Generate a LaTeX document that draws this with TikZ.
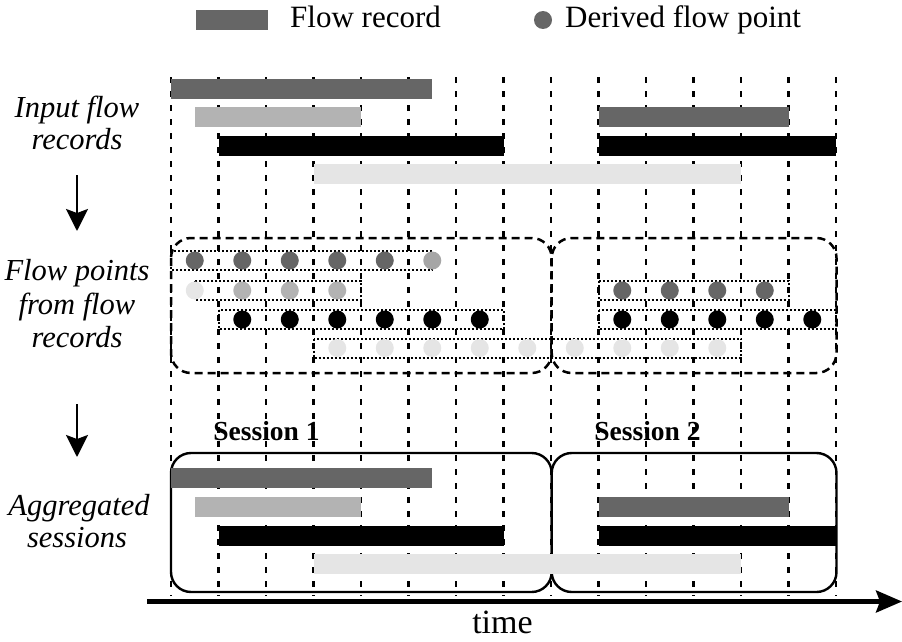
\documentclass[tikz,border=0pt]{standalone}
\usepackage{fontspec}
\setmainfont{Liberation Serif}
\usetikzlibrary{arrows.meta}
\definecolor{recdark}{HTML}{666666}
\definecolor{reclight}{HTML}{B3B3B3}
\definecolor{recpale}{HTML}{E5E5E5}
\definecolor{ptfade}{HTML}{A6A6A6}
\definecolor{ptpale}{HTML}{E6E6E6}

% horizontal position of half-step k on the time grid
\newcommand\tx[1]{{171+23.75*(#1)}}
% a flow record bar from half-step #1 to #2, top edge #3
\newcommand\flowbar[4]{\fill[#4] (\tx{#1},#3) rectangle (\tx{#2},#3+20);}
% dotted outline round the points of one record, centred on #3
\newcommand\ptbox[3]{\draw[pointbox] (\tx{#1},#3-9.5) rectangle (\tx{#2},#3+9.5);}

\begin{document}
\begin{tikzpicture}[x=1pt,y=-1pt,
  gridline/.style={line width=2.1pt,dash pattern=on 6pt off 8pt},
  pointbox/.style={line width=2pt,dash pattern=on 2pt off 2pt},
  sessdash/.style={line width=2.5pt,dash pattern=on 8pt off 5pt,rounded corners=20pt},
  sessbox/.style={line width=2.4pt,rounded corners=20pt},
  steplabel/.style={inner sep=0pt,anchor=base,font=\fontsize{30.5}{33}\selectfont\itshape},
  legendtext/.style={inner sep=0pt,anchor=base west,font=\fontsize{31}{33}\selectfont},
  sesslabel/.style={inner sep=0pt,anchor=base,font=\fontsize{27.5}{30}\selectfont\bfseries},
  stagearrow/.style={line width=2.2pt,-{Stealth[length=22pt,width=22pt,inset=4pt]}},
  timearrow/.style={line width=4.2pt,-{Stealth[length=26pt,width=22pt,inset=4pt]}}]
\useasboundingbox (0,0) rectangle (902,642);

% legend
\fill[recdark] (196,10) rectangle (268,30);
\node[legendtext] (legrec) at (290,28) {Flow record};
\fill[recdark] (543,20) circle (9pt);
\node[legendtext] (legpt) at (565,28) {Derived flow point};

% stage labels on the left
\node[steplabel] (in1) at (77,117) {Input flow};
\node[steplabel] (in2) at (77,149) {records};
\node[steplabel] (fp1) at (77,280) {Flow points};
\node[steplabel] (fp2) at (77,314) {from flow};
\node[steplabel] (fp3) at (77,347) {records};
\node[steplabel] (ag1) at (79,515) {Aggregated};
\node[steplabel] (ag2) at (77,547) {sessions};
\coordinate (a1s) at (77,175);
\coordinate (a1e) at (77,231);
\coordinate (a2s) at (77,404);
\coordinate (a2e) at (77,457);
\draw[stagearrow] (a1s) -- (a1e);
\draw[stagearrow] (a2s) -- (a2e);

% time grid
\foreach \i in {0,...,14}
  \draw[gridline] ({171+47.5*\i},77) -- ({171+47.5*\i},596);

% sessions over the flow points
\draw[sessdash] (171,238) rectangle (551.7,373);
\draw[sessdash] (551.7,238) rectangle (836.5,373);

% flow points derived from each record
\ptbox{0}{11}{260.5}
\ptbox{1}{8}{290.5}
\ptbox{2}{14}{319.5}
\ptbox{6}{24}{348}
\ptbox{18}{26}{290.5}
\ptbox{18}{28}{319.5}
\foreach \k in {1,3,...,9} \fill[recdark] (\tx{\k},260.5) circle (9pt);
\fill[ptfade] (\tx{11},260.5) circle (9pt);
\fill[ptpale] (\tx{1},290.5) circle (9pt);
\foreach \k in {3,5,7} \fill[reclight] (\tx{\k},290.5) circle (9pt);
\foreach \k in {3,5,...,13} \fill[black] (\tx{\k},319.5) circle (9pt);
\foreach \k in {7,9,...,23} \fill[recpale] (\tx{\k},348) circle (9pt);
\foreach \k in {19,21,23,25} \fill[recdark] (\tx{\k},290.5) circle (9pt);
\foreach \k in {19,21,...,27} \fill[black] (\tx{\k},319.5) circle (9pt);

% input flow records
\flowbar{0}{11}{79}{recdark}
\flowbar{1}{8}{107}{reclight}
\flowbar{2}{14}{136}{black}
\flowbar{6}{24}{164}{recpale}
\flowbar{18}{26}{107}{recdark}
\flowbar{18}{28}{136}{black}

% aggregated sessions
\node[sesslabel] (s1) at (266.5,440) {Session 1};
\node[sesslabel] (s2) at (647.5,440) {Session 2};
\draw[sessbox] (171,453) rectangle (551.7,592);
\draw[sessbox] (551.7,453) rectangle (836.5,592);
\flowbar{0}{11}{468}{recdark}
\flowbar{1}{8}{497}{reclight}
\flowbar{2}{14}{526}{black}
\flowbar{6}{24}{554}{recpale}
\flowbar{18}{26}{497}{recdark}
\flowbar{18}{28}{526}{black}

% time axis
\coordinate (t0) at (147,601.5);
\coordinate (t1) at (902,601.5);
\draw[timearrow] (t0) -- (t1);
\node[inner sep=0pt,anchor=base,font=\fontsize{34}{36}\selectfont] (tl) at (502.5,633) {time};
\end{tikzpicture}
\end{document}
